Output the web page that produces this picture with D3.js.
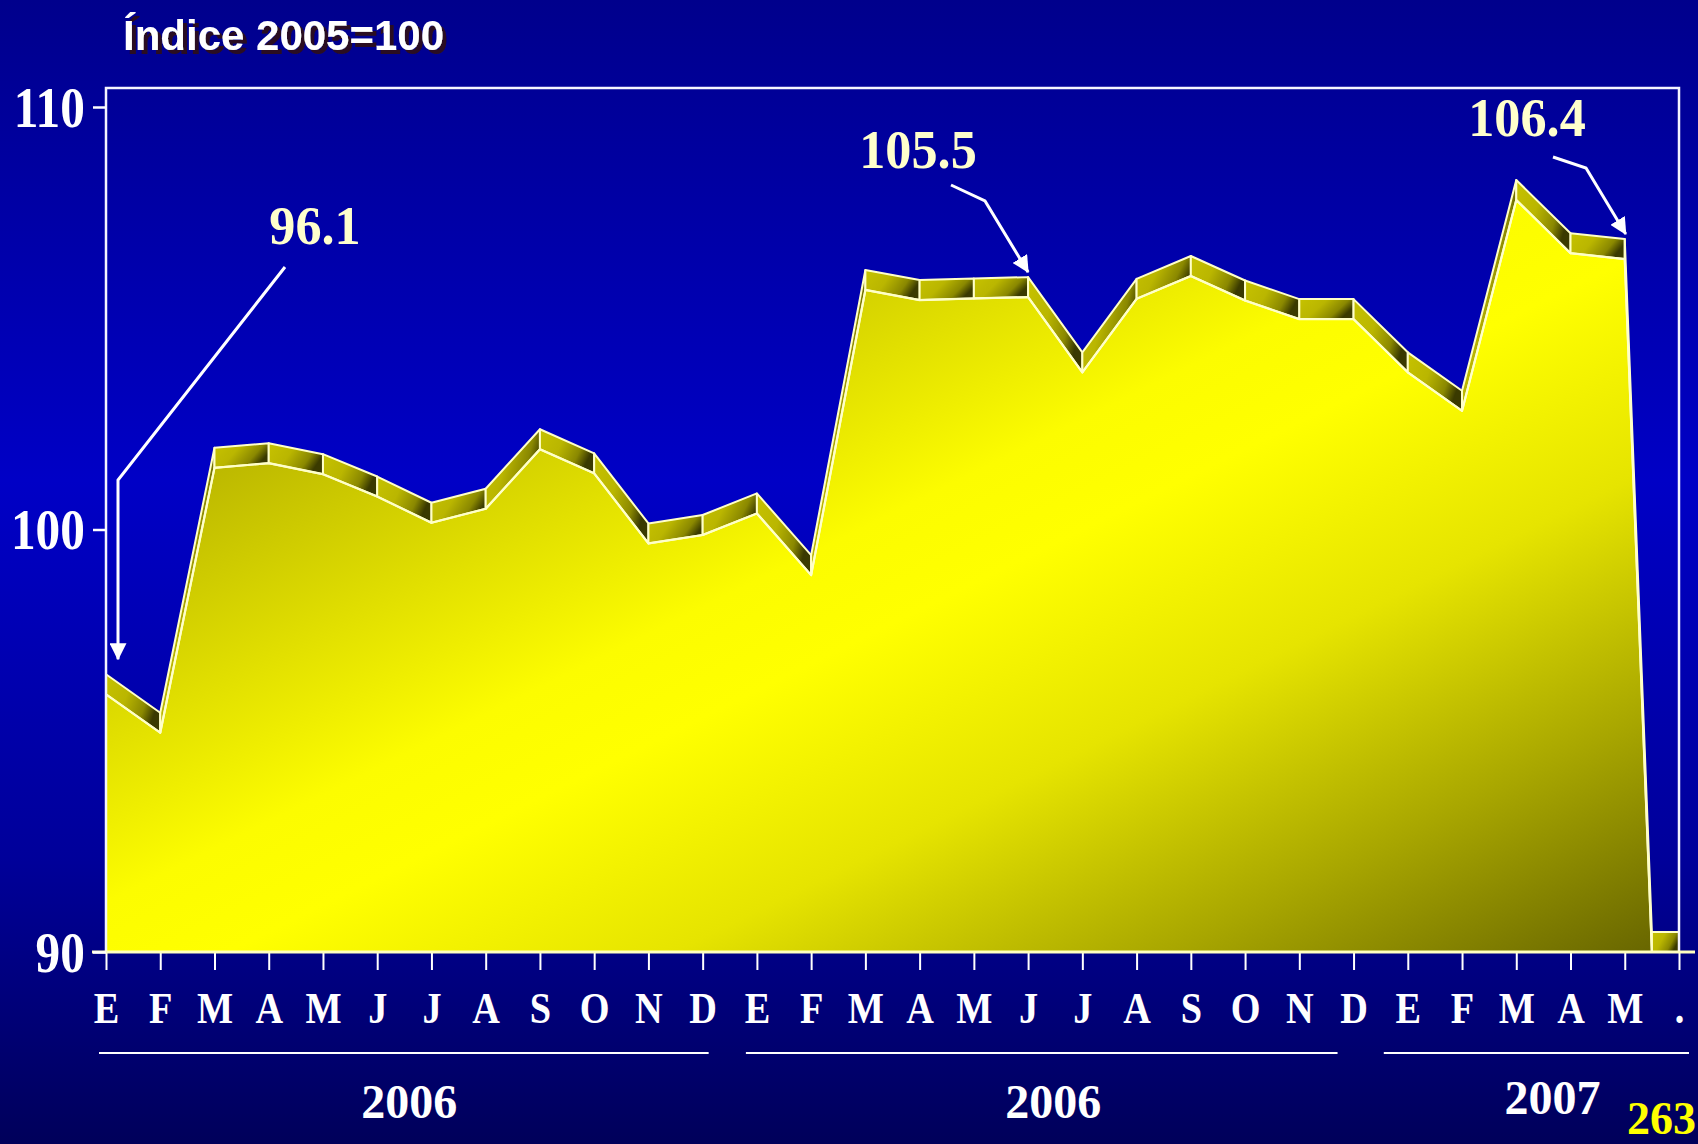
<!DOCTYPE html>
<html><head><meta charset="utf-8">
<script src="https://cdn.jsdelivr.net/npm/d3@7"></script>
<style>html,body{margin:0;padding:0;background:#00008c;overflow:hidden}</style>
</head><body>
<svg id="chart" width="1698" height="1144"></svg>
<script>
// ---------- data ----------
const months = ["E","F","M","A","M","J","J","A","S","O","N","D",
                "E","F","M","A","M","J","J","A","S","O","N","D",
                "E","F","M","A","M","."];
const values = [96.1, 95.19, 101.46, 101.57, 101.31, 100.78, 100.16, 100.49, 101.90, 101.33, 99.67, 99.87,
                100.38, 98.92, 105.67, 105.43, 105.47, 105.5, 103.72, 105.46, 106.0, 105.42, 104.98, 104.98,
                103.72, 102.81, 107.80, 106.54, 106.4, 73.6];
const yearLabels = ["2006", "2006", "2007"];
const yearFirst = [0, 12, 24];
const yearLast = [11, 23, 29];
const yTicks = [90, 100, 110];
const annotIndex = [0, 17, 28];
const annotText = ["96.1", "105.5", "106.4"];
const titleText = "Índice 2005=100";
const pageNo = "263";

// ---------- layout ----------
const W = 1698, H = 1144;
const L = 106, R = 1679, T = 88, B = 952, depth = 20;
const serif = "'Liberation Serif','Times New Roman',serif";
const sans = "'Liberation Sans',Arial,sans-serif";

const svg = d3.select("#chart");
const defs = svg.append("defs");

function grad(id, attrs, stops) {
  const g = defs.append("linearGradient").attr("id", id);
  Object.entries(attrs).forEach(([k, v]) => g.attr(k, v));
  stops.forEach(([o, c]) => g.append("stop").attr("offset", o).attr("stop-color", c));
}
grad("bg", {x1: 0, y1: 0, x2: 0, y2: 1}, [[0, "#00008c"], [0.42, "#0000c6"], [0.75, "#00009a"], [1, "#00005a"]]);
grad("areaG", {gradientUnits: "userSpaceOnUse", x1: -69, y1: 584, x2: 418, y2: 1569},
  [[0, "#b8b400"], [0.2, "#e2e000"], [0.33, "#fcfc00"], [0.42, "#ffff00"], [0.6, "#e6e400"], [0.8, "#a8a600"], [1, "#666400"]]);
grad("ribG", {x1: 0, y1: 0, x2: 1, y2: 0.4},
  [[0, "#c6c200"], [0.45, "#bab600"], [0.8, "#8a8800"], [1, "#3a3a00"]]);

const shadow = defs.append("filter").attr("id", "shadow")
  .attr("x", "-5%").attr("y", "-20%").attr("width", "115%").attr("height", "150%");
shadow.append("feDropShadow").attr("dx", 4).attr("dy", 4).attr("stdDeviation", 0.6)
  .attr("flood-color", "#2a0a22").attr("flood-opacity", 1);

svg.append("rect").attr("width", W).attr("height", H).attr("fill", "url(#bg)");

const x = d3.scalePoint().domain(d3.range(months.length)).range([L, R]);
const y = d3.scaleLinear().domain([90, 110]).range([B, 107]);

// front edge, clipped at the floor (value axis minimum)
const raw = values.map((v, i) => [x(i), y(v)]);
const front = [raw[0]];
for (let i = 1; i < raw.length; i++) {
  const [x0, y0] = raw[i - 1], [x1, y1] = raw[i];
  if (y0 <= B && y1 > B) {
    const t = (B - y0) / (y1 - y0);
    front.push([x0 + t * (x1 - x0), B]);
    front.push([x1, B]);
  } else if (y0 > B && y1 > B) {
    front.push([x1, B]);
  } else if (y0 > B && y1 <= B) {
    const t = (B - y0) / (y1 - y0);
    front.push([x0 + t * (x1 - x0), B]);
    front.push([x1, y1]);
  } else front.push([x1, y1]);
}

const area = d3.area().x(d => d[0]).y0(B).y1(d => d[1]);
svg.append("path").datum(front).attr("d", area).attr("fill", "url(#areaG)");

// ribbons (3D depth band)
const line = d3.line();
const ribbons = [];
for (let i = 0; i < front.length - 1; i++) {
  const p0 = front[i], p1 = front[i + 1];
  ribbons.push([p0, p1, [p1[0], p1[1] - depth], [p0[0], p0[1] - depth]]);
}
svg.append("g").selectAll("path").data(ribbons).join("path")
  .attr("d", d => line(d) + "Z")
  .attr("fill", "url(#ribG)")
  .attr("stroke", "#ffffc8").attr("stroke-width", 2).attr("stroke-linejoin", "round");
svg.append("path").datum(front).attr("d", line).attr("fill", "none")
  .attr("stroke", "#ffffc8").attr("stroke-width", 2.2).attr("stroke-linejoin", "round");

// frame
svg.append("path").attr("d", `M${L},${B}V${T}H${R}V${B}`)
  .attr("fill", "none").attr("stroke", "#f4f4ff").attr("stroke-width", 2.5);

// x axis
const xAxis = d3.axisBottom(x).tickFormat(i => months[i]).tickSize(18).tickPadding(10);
const gx = svg.append("g").attr("transform", `translate(0,${B})`).call(xAxis);
gx.select(".domain").remove();
gx.selectAll(".tick line").attr("stroke", "#ffffff").attr("stroke-width", 2);
gx.selectAll(".tick text")
  .attr("fill", "#ffffff").attr("font-family", serif).attr("font-weight", "bold")
  .attr("font-size", 44).attr("y", 71).attr("dy", 0)
  .attr("transform", "scale(0.87,1)");
svg.append("line").attr("x1", 92).attr("x2", 1695).attr("y1", B).attr("y2", B)
  .attr("stroke", "#ffffc0").attr("stroke-width", 3);

// y axis
const yAxis = d3.axisLeft(y).tickValues(yTicks).tickSize(13).tickFormat(d3.format("d"));
const gy = svg.append("g").attr("transform", `translate(${L},0)`).call(yAxis);
gy.select(".domain").remove();
gy.selectAll(".tick line").attr("stroke", "#ffffff").attr("stroke-width", 2.5);
gy.selectAll(".tick text")
  .attr("fill", "#ffffff").attr("font-family", serif).attr("font-weight", "bold")
  .attr("font-size", 56).attr("x", -24).attr("dy", "0.34em")
  .attr("transform", "scale(0.88,1)");

// year groups
const yearLine = [[-7, 6], [-11, -16], [-24, 10]];
const yearShift = [5, -2, 9];
const yearBase = [1118, 1118, 1114];
yearLabels.forEach((lab, k) => {
  const a = x(yearFirst[k]), b = x(yearLast[k]);
  svg.append("line").attr("x1", a + yearLine[k][0]).attr("x2", b + yearLine[k][1])
    .attr("y1", 1053).attr("y2", 1053).attr("stroke", "#ffffff").attr("stroke-width", 2);
  svg.append("text").attr("x", (a + b) / 2 + yearShift[k]).attr("y", yearBase[k])
    .attr("text-anchor", "middle").attr("fill", "#ffffff")
    .attr("font-family", serif).attr("font-weight", "bold").attr("font-size", 48).text(lab);
});

// annotations
defs.append("marker").attr("id", "arrow").attr("markerUnits", "userSpaceOnUse")
  .attr("viewBox", "0 0 16 16").attr("refX", 15).attr("refY", 8)
  .attr("markerWidth", 17).attr("markerHeight", 17).attr("orient", "auto")
  .append("path").attr("d", "M0,0L16,8L0,16Z").attr("fill", "#ffffff");
const annLabel = [[315, 244], [918, 168], [1527, 136]];
const annPath = [[[285, 267], [118, 480]], [[951, 185], [985, 201]], [[1553, 157], [1586, 168]]];
const tipOff = [[12, -35], [0, -25], [1, -25]];
annotIndex.forEach((idx, k) => {
  const tip = [x(idx) + tipOff[k][0], y(values[idx]) + tipOff[k][1]];
  svg.append("path").attr("d", line([...annPath[k], tip]))
    .attr("fill", "none").attr("stroke", "#ffffff").attr("stroke-width", 3)
    .attr("marker-end", "url(#arrow)");
  svg.append("text").attr("transform", `translate(${annLabel[k][0]},${annLabel[k][1]}) scale(0.95,1)`)
    .attr("text-anchor", "middle").attr("fill", "#ffffcc")
    .attr("font-family", serif).attr("font-weight", "bold").attr("font-size", 55)
    .text(annotText[k]);
});

// title with shadow
svg.append("text").attr("x", 123).attr("y", 50).attr("fill", "#ffffff")
  .attr("filter", "url(#shadow)")
  .attr("font-family", sans).attr("font-weight", "bold").attr("font-size", 42).text(titleText);

// page number
svg.append("text").attr("x", 1696).attr("y", 1134).attr("text-anchor", "end").attr("fill", "#ffff00")
  .attr("font-family", serif).attr("font-weight", "bold").attr("font-size", 46).text(pageNo);
</script>
</body></html>
